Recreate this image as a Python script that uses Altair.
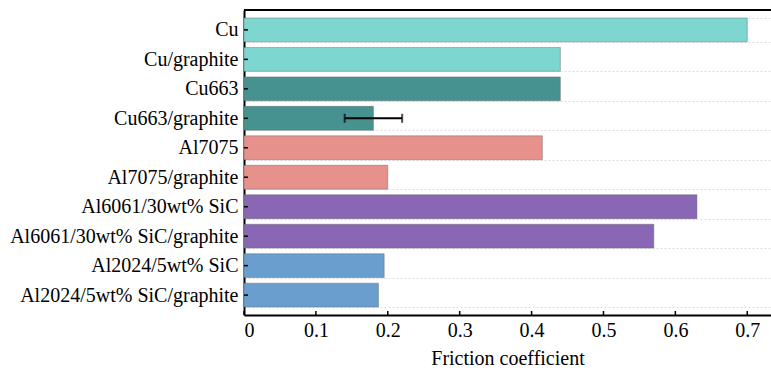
import altair as alt
import pandas as pd

categories = ["Cu", "Cu/graphite", "Cu663", "Cu663/graphite", "Al7075",
              "Al7075/graphite", "Al6061/30wt% SiC", "Al6061/30wt% SiC/graphite",
              "Al2024/5wt% SiC", "Al2024/5wt% SiC/graphite"]
groups = ["Cu", "Cu", "Cu663", "Cu663", "Al7075", "Al7075",
          "Al6061", "Al6061", "Al2024", "Al2024"]
values = [0.70, 0.44, 0.44, 0.18, 0.415, 0.20, 0.63, 0.57, 0.195, 0.187]

err_category = ["Cu663/graphite"]
err_low = [0.14]
err_high = [0.22]

x_ticks = [0, 0.1, 0.2, 0.3, 0.4, 0.5, 0.6, 0.7]

group_domain = ["Cu", "Cu663", "Al7075", "Al6061", "Al2024"]
group_colors = ["#7dd6cf", "#459290", "#e6918c", "#8a67b4", "#6a9ecf"]

W, H = 527, 305
FONT = "Liberation Serif"
FS = 20

df = pd.DataFrame({"category": categories, "group": groups, "value": values})
err_df = pd.DataFrame({"category": err_category, "lo": err_low, "hi": err_high})
tick_df = pd.DataFrame({"t": x_ticks})

xscale = alt.Scale(domain=[0, 0.733], nice=False, zero=True)
yscale = alt.Scale(domain=categories, paddingInner=0.19, paddingOuter=0.27)

bars = alt.Chart(df).mark_bar(stroke="#666666", strokeOpacity=0.45, strokeWidth=1).encode(
    y=alt.Y("category:N", scale=yscale, sort=categories,
            axis=alt.Axis(title=None, labelFont=FONT, labelFontSize=FS, labelColor="black",
                          labelPadding=6, ticks=False, domainColor="black", domainWidth=2,
                          grid=True, gridDash=[2, 2], gridColor="#dcdcdc", gridWidth=1,
                          tickBand="extent", labelLimit=300)),
    x=alt.X("value:Q", scale=xscale,
            axis=alt.Axis(title="Friction coefficient", values=x_ticks, format="~g",
                          labelFont=FONT, labelFontSize=FS, labelColor="black", labelPadding=5,
                          titleFont=FONT, titleFontSize=FS, titleFontWeight="normal",
                          titleColor="black", titlePadding=8,
                          ticks=False, domainColor="black", domainWidth=2, grid=False)),
    color=alt.Color("group:N", scale=alt.Scale(domain=group_domain, range=group_colors), legend=None),
)

ytick = alt.Chart(df).mark_rule(color="black", strokeWidth=1.5).encode(
    y=alt.Y("category:N", scale=yscale, sort=categories),
    x=alt.value(0), x2=alt.value(4),
)

xtick = alt.Chart(tick_df).mark_rule(color="black", strokeWidth=1.5).encode(
    x=alt.X("t:Q", scale=xscale), y=alt.value(H), y2=alt.value(H - 4),
)

top = alt.Chart(tick_df).mark_rule(color="black", strokeWidth=2).encode(
    x=alt.value(0), x2=alt.value(W), y=alt.value(0),
)

err = alt.Chart(err_df).mark_rule(color="black", strokeWidth=2).encode(
    y=alt.Y("category:N", scale=yscale, sort=categories),
    x=alt.X("lo:Q", scale=xscale), x2="hi:Q",
)
cap_lo = alt.Chart(err_df).mark_tick(color="black", thickness=2, size=9).encode(
    y=alt.Y("category:N", scale=yscale, sort=categories),
    x=alt.X("lo:Q", scale=xscale),
)
cap_hi = alt.Chart(err_df).mark_tick(color="black", thickness=2, size=9).encode(
    y=alt.Y("category:N", scale=yscale, sort=categories),
    x=alt.X("hi:Q", scale=xscale),
)

chart = alt.layer(bars, ytick, xtick, top, err, cap_lo, cap_hi).properties(
    width=W, height=H,
    autosize=alt.AutoSizeParams(type="none"),
    padding={"left": 244, "top": 10, "right": 0, "bottom": 55},
).configure_view(stroke=None).configure(background="white")

chart.save("out.html", embed_options={"renderer": "svg", "actions": False})
